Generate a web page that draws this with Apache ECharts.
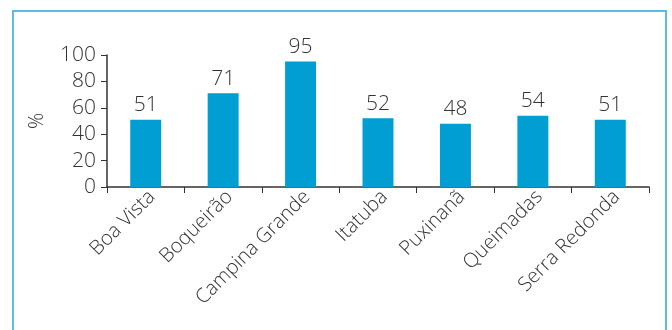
<!DOCTYPE html>
<html>
<head>
<meta charset="utf-8">
<script src="https://cdn.jsdelivr.net/npm/echarts@6/dist/echarts.min.js"></script>
<style>
  html, body { margin: 0; padding: 0; background: #fff; }
  #box { position: absolute; left: 12px; top: 10px; width: 655px; height: 330px;
         border: 2px solid #5bbde3; border-bottom: none; box-sizing: border-box; }
  #chart { position: absolute; left: 0; top: 0; width: 672px; height: 330px; }
</style>
</head>
<body>
<div id="box"></div>
<div id="chart"></div>
<script>
// municipios e percentuais
var categories = ['Boa Vista', 'Boqueirão', 'Campina Grande', 'Itatuba', 'Puxinanã', 'Queimadas', 'Serra Redonda'];
var values = [51, 71, 95, 52, 48, 54, 51];

var myChart = echarts.init(document.getElementById('chart'));
var font = 'Open Sans';
var option = {
    animation: false,
    grid: { left: 107, right: 23, top: 55, bottom: 143 },
    xAxis: {
        type: 'category',
        data: categories,
        axisLine: { lineStyle: { color: '#333', width: 1.5 } },
        axisTick: { show: true, length: 6, lineStyle: { color: '#333' } },
        axisLabel: {
            rotate: 45, interval: 0, color: '#333', fontSize: 20,
            fontFamily: font, fontWeight: 300, margin: 13,
            padding: [0, -9, 0, 0]
        }
    },
    yAxis: {
        type: 'value',
        min: 0, max: 100, interval: 20,
        name: '%',
        nameLocation: 'middle',
        nameRotate: 90,
        nameGap: 60,
        nameTextStyle: { color: '#333', fontSize: 20, fontFamily: font, fontWeight: 300 },
        splitLine: { show: false },
        axisLine: { show: true, lineStyle: { color: '#333', width: 1.5 } },
        axisTick: { show: true, length: 6, lineStyle: { color: '#333' } },
        axisLabel: { color: '#333', fontSize: 21, fontFamily: font, fontWeight: 300, margin: 11 }
    },
    series: [{
        type: 'bar',
        data: values,
        barWidth: '40%',
        itemStyle: { color: '#009ed3' },
        label: {
            show: true, position: 'top', distance: 4,
            color: '#333', fontSize: 21, fontFamily: font, fontWeight: 300
        }
    }]
};
myChart.setOption(option);
</script>
</body>
</html>
